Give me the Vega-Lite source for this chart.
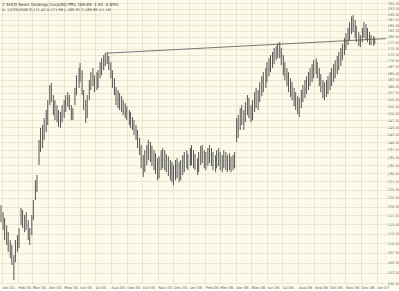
{
  "$schema": "https://vega.github.io/schema/vega-lite/v6.json",
  "width": 386,
  "height": 283,
  "padding": {"left": 0, "top": 0, "right": 0, "bottom": 0},
  "background": "#FCFAEA",
  "config": {"view": {"stroke": null, "fill": "#FCFAEA"}, "font": "DejaVu Sans"},
  "title": {
    "text": "▽ SHLD Sears Holdings Corp(NQ-PRI)  169.89  -1.53  -0.89%",
    "subtitle": "D: 12/29/2006  O:171.42  H:171.98  L:169.31  C:169.89  V:1.1M",
    "anchor": "start",
    "frame": "group",
    "orient": "top",
    "offset": -12,
    "fontSize": 4,
    "fontWeight": "normal",
    "color": "#333",
    "subtitleFontSize": 3.6,
    "subtitleColor": "#444",
    "subtitlePadding": 1,
    "dx": 2
  },
  "layer": [
    {
      "data": {"values": [
        {"d":"2004-12-30","h":120.4,"l":115.6},
        {"d":"2005-01-03","h":118.4,"l":113.5},
        {"d":"2005-01-06","h":116.8,"l":110.8},
        {"d":"2005-01-10","h":114.8,"l":109.5},
        {"d":"2005-01-13","h":112.9,"l":107.7},
        {"d":"2005-01-17","h":110.8,"l":106.1},
        {"d":"2005-01-20","h":109.5,"l":104.4},
        {"d":"2005-01-24","h":106.9,"l":100.7},
        {"d":"2005-01-27","h":110.8,"l":105.1},
        {"d":"2005-01-31","h":112.1,"l":107.7},
        {"d":"2005-02-03","h":114.0,"l":108.7},
        {"d":"2005-02-07","h":119.6,"l":114.8},
        {"d":"2005-02-10","h":119.0,"l":114.0},
        {"d":"2005-02-14","h":117.6,"l":112.9},
        {"d":"2005-02-17","h":118.4,"l":113.5},
        {"d":"2005-02-21","h":116.2,"l":110.8},
        {"d":"2005-02-24","h":114.0,"l":109.5},
        {"d":"2005-02-28","h":117.6,"l":112.1},
        {"d":"2005-03-03","h":121.9,"l":116.2},
        {"d":"2005-03-07","h":127.8,"l":121.9},
        {"d":"2005-03-10","h":129.4,"l":124.2},
        {"d":"2005-03-14","h":140.7,"l":132.5},
        {"d":"2005-03-17","h":144.8,"l":136.7},
        {"d":"2005-03-21","h":145.8,"l":138.0},
        {"d":"2005-03-24","h":148.2,"l":140.7},
        {"d":"2005-03-28","h":151.1,"l":143.4},
        {"d":"2005-03-31","h":154.7,"l":145.8},
        {"d":"2005-04-04","h":160.4,"l":152.9},
        {"d":"2005-04-07","h":161.2,"l":154.0},
        {"d":"2005-04-11","h":156.6,"l":149.3},
        {"d":"2005-04-14","h":154.7,"l":147.5},
        {"d":"2005-04-18","h":152.9,"l":146.8},
        {"d":"2005-04-21","h":151.1,"l":145.1},
        {"d":"2005-04-25","h":150.4,"l":144.8},
        {"d":"2005-04-28","h":152.9,"l":146.8},
        {"d":"2005-05-02","h":154.7,"l":148.2},
        {"d":"2005-05-05","h":156.6,"l":150.4},
        {"d":"2005-05-09","h":157.7,"l":152.2},
        {"d":"2005-05-12","h":156.6,"l":151.1},
        {"d":"2005-05-16","h":152.9,"l":147.5},
        {"d":"2005-05-19","h":151.8,"l":147.5},
        {"d":"2005-05-23","h":159.3,"l":152.9},
        {"d":"2005-05-26","h":164.2,"l":156.6},
        {"d":"2005-05-31","h":167.0,"l":159.3},
        {"d":"2005-06-02","h":169.0,"l":161.5},
        {"d":"2005-06-06","h":166.2,"l":156.6},
        {"d":"2005-06-09","h":158.5,"l":151.1},
        {"d":"2005-06-13","h":154.7,"l":146.5},
        {"d":"2005-06-16","h":156.6,"l":148.2},
        {"d":"2005-06-20","h":162.3,"l":154.7},
        {"d":"2005-06-23","h":165.4,"l":158.5},
        {"d":"2005-06-27","h":167.0,"l":160.0},
        {"d":"2005-06-30","h":164.2,"l":157.7},
        {"d":"2005-07-05","h":165.4,"l":158.5},
        {"d":"2005-07-07","h":166.2,"l":159.3},
        {"d":"2005-07-11","h":169.4,"l":163.0},
        {"d":"2005-07-14","h":171.0,"l":164.2},
        {"d":"2005-07-18","h":172.3,"l":166.2},
        {"d":"2005-07-21","h":173.2,"l":167.8},
        {"d":"2005-07-25","h":173.6,"l":168.6},
        {"d":"2005-07-28","h":171.9,"l":166.2},
        {"d":"2005-08-01","h":169.4,"l":163.0},
        {"d":"2005-08-04","h":166.2,"l":159.3},
        {"d":"2005-08-08","h":163.0,"l":156.6},
        {"d":"2005-08-11","h":159.6,"l":152.9},
        {"d":"2005-08-15","h":158.5,"l":151.8},
        {"d":"2005-08-18","h":157.4,"l":151.1},
        {"d":"2005-08-22","h":156.2,"l":150.4},
        {"d":"2005-08-25","h":154.7,"l":149.3},
        {"d":"2005-08-29","h":153.6,"l":148.2},
        {"d":"2005-09-01","h":152.5,"l":147.5},
        {"d":"2005-09-06","h":151.1,"l":145.8},
        {"d":"2005-09-08","h":150.4,"l":144.8},
        {"d":"2005-09-12","h":148.6,"l":144.1},
        {"d":"2005-09-15","h":147.5,"l":142.4},
        {"d":"2005-09-19","h":145.8,"l":140.7},
        {"d":"2005-09-22","h":144.1,"l":138.0},
        {"d":"2005-09-26","h":141.4,"l":135.7},
        {"d":"2005-09-29","h":139.0,"l":131.5},
        {"d":"2005-10-03","h":135.7,"l":128.8},
        {"d":"2005-10-06","h":137.3,"l":130.3},
        {"d":"2005-10-10","h":139.0,"l":132.5},
        {"d":"2005-10-13","h":140.7,"l":134.1},
        {"d":"2005-10-17","h":140.0,"l":133.5},
        {"d":"2005-10-20","h":138.7,"l":132.2},
        {"d":"2005-10-24","h":137.3,"l":130.9},
        {"d":"2005-10-27","h":136.3,"l":129.7},
        {"d":"2005-10-31","h":134.7,"l":127.8},
        {"d":"2005-11-03","h":135.3,"l":128.4},
        {"d":"2005-11-07","h":137.3,"l":130.9},
        {"d":"2005-11-10","h":138.0,"l":131.5},
        {"d":"2005-11-14","h":137.3,"l":130.9},
        {"d":"2005-11-17","h":136.0,"l":130.3},
        {"d":"2005-11-21","h":135.3,"l":129.1},
        {"d":"2005-11-25","h":134.1,"l":127.8},
        {"d":"2005-11-28","h":133.5,"l":127.2},
        {"d":"2005-12-01","h":132.5,"l":126.3},
        {"d":"2005-12-05","h":134.1,"l":127.8},
        {"d":"2005-12-08","h":134.7,"l":128.4},
        {"d":"2005-12-12","h":133.5,"l":127.2},
        {"d":"2005-12-15","h":134.1,"l":127.8},
        {"d":"2005-12-19","h":135.7,"l":129.4},
        {"d":"2005-12-22","h":136.7,"l":130.3},
        {"d":"2005-12-27","h":137.3,"l":131.5},
        {"d":"2005-12-29","h":136.0,"l":130.9},
        {"d":"2006-01-03","h":138.0,"l":132.2},
        {"d":"2006-01-05","h":139.0,"l":132.5},
        {"d":"2006-01-09","h":137.3,"l":131.5},
        {"d":"2006-01-12","h":136.0,"l":130.9},
        {"d":"2006-01-17","h":134.7,"l":129.4},
        {"d":"2006-01-19","h":136.7,"l":130.3},
        {"d":"2006-01-23","h":138.7,"l":132.5},
        {"d":"2006-01-26","h":139.0,"l":133.1},
        {"d":"2006-01-30","h":137.3,"l":131.5},
        {"d":"2006-02-02","h":136.7,"l":130.9},
        {"d":"2006-02-06","h":138.0,"l":132.2},
        {"d":"2006-02-09","h":139.0,"l":133.1},
        {"d":"2006-02-13","h":138.0,"l":132.2},
        {"d":"2006-02-16","h":136.7,"l":130.9},
        {"d":"2006-02-21","h":135.7,"l":130.3},
        {"d":"2006-02-23","h":137.3,"l":131.5},
        {"d":"2006-02-27","h":138.0,"l":132.2},
        {"d":"2006-03-02","h":136.7,"l":130.9},
        {"d":"2006-03-06","h":135.7,"l":130.3},
        {"d":"2006-03-09","h":137.3,"l":131.5},
        {"d":"2006-03-13","h":136.7,"l":130.9},
        {"d":"2006-03-16","h":135.7,"l":130.3},
        {"d":"2006-03-20","h":136.3,"l":130.9},
        {"d":"2006-03-23","h":135.3,"l":130.3},
        {"d":"2006-03-27","h":135.7,"l":130.9},
        {"d":"2006-03-30","h":136.7,"l":131.5},
        {"d":"2006-04-03","h":148.2,"l":140.0},
        {"d":"2006-04-06","h":149.3,"l":141.4},
        {"d":"2006-04-10","h":151.8,"l":144.1},
        {"d":"2006-04-13","h":152.9,"l":145.8},
        {"d":"2006-04-17","h":151.1,"l":144.1},
        {"d":"2006-04-20","h":154.0,"l":146.8},
        {"d":"2006-04-24","h":156.6,"l":149.3},
        {"d":"2006-04-27","h":155.5,"l":148.2},
        {"d":"2006-05-01","h":152.9,"l":146.8},
        {"d":"2006-05-04","h":154.7,"l":147.5},
        {"d":"2006-05-08","h":157.7,"l":150.4},
        {"d":"2006-05-11","h":159.3,"l":151.8},
        {"d":"2006-05-15","h":158.5,"l":151.1},
        {"d":"2006-05-18","h":161.5,"l":154.0},
        {"d":"2006-05-22","h":163.8,"l":156.2},
        {"d":"2006-05-25","h":165.4,"l":157.7},
        {"d":"2006-05-30","h":167.0,"l":159.3},
        {"d":"2006-06-01","h":169.4,"l":161.5},
        {"d":"2006-06-05","h":171.0,"l":163.8},
        {"d":"2006-06-08","h":172.3,"l":165.4},
        {"d":"2006-06-12","h":173.6,"l":167.0},
        {"d":"2006-06-15","h":175.2,"l":168.6},
        {"d":"2006-06-19","h":176.1,"l":170.2},
        {"d":"2006-06-22","h":177.3,"l":171.0},
        {"d":"2006-06-26","h":177.8,"l":171.0},
        {"d":"2006-06-29","h":175.2,"l":168.2},
        {"d":"2006-07-03","h":172.3,"l":164.2},
        {"d":"2006-07-06","h":169.4,"l":162.3},
        {"d":"2006-07-10","h":167.0,"l":160.0},
        {"d":"2006-07-13","h":165.4,"l":157.7},
        {"d":"2006-07-17","h":163.0,"l":155.9},
        {"d":"2006-07-20","h":161.5,"l":154.7},
        {"d":"2006-07-24","h":159.3,"l":152.5},
        {"d":"2006-07-27","h":157.7,"l":151.1},
        {"d":"2006-07-31","h":156.2,"l":149.6},
        {"d":"2006-08-03","h":155.5,"l":148.6},
        {"d":"2006-08-07","h":158.5,"l":151.8},
        {"d":"2006-08-10","h":160.4,"l":154.0},
        {"d":"2006-08-14","h":162.3,"l":155.5},
        {"d":"2006-08-17","h":163.8,"l":157.0},
        {"d":"2006-08-21","h":165.4,"l":158.5},
        {"d":"2006-08-24","h":167.0,"l":160.0},
        {"d":"2006-08-28","h":168.6,"l":161.5},
        {"d":"2006-08-31","h":170.2,"l":163.0},
        {"d":"2006-09-05","h":171.0,"l":164.6},
        {"d":"2006-09-07","h":169.4,"l":163.0},
        {"d":"2006-09-11","h":167.0,"l":160.0},
        {"d":"2006-09-14","h":164.6,"l":157.7},
        {"d":"2006-09-18","h":162.3,"l":155.5},
        {"d":"2006-09-21","h":161.5,"l":154.7},
        {"d":"2006-09-25","h":162.3,"l":155.9},
        {"d":"2006-09-28","h":163.8,"l":157.0},
        {"d":"2006-10-02","h":165.4,"l":158.5},
        {"d":"2006-10-05","h":167.0,"l":160.0},
        {"d":"2006-10-09","h":168.6,"l":161.5},
        {"d":"2006-10-12","h":170.2,"l":163.0},
        {"d":"2006-10-16","h":171.9,"l":164.6},
        {"d":"2006-10-19","h":173.6,"l":166.2},
        {"d":"2006-10-23","h":175.2,"l":167.8},
        {"d":"2006-10-26","h":176.9,"l":170.2},
        {"d":"2006-10-30","h":179.5,"l":172.3},
        {"d":"2006-11-02","h":181.6,"l":174.4},
        {"d":"2006-11-06","h":183.8,"l":176.5},
        {"d":"2006-11-09","h":186.4,"l":178.6},
        {"d":"2006-11-13","h":189.0,"l":181.1},
        {"d":"2006-11-16","h":189.5,"l":182.0},
        {"d":"2006-11-20","h":187.3,"l":179.5},
        {"d":"2006-11-22","h":184.7,"l":177.7},
        {"d":"2006-11-27","h":182.0,"l":176.1},
        {"d":"2006-11-30","h":180.7,"l":175.6},
        {"d":"2006-12-04","h":183.8,"l":177.7},
        {"d":"2006-12-07","h":186.4,"l":179.5},
        {"d":"2006-12-11","h":185.5,"l":178.6},
        {"d":"2006-12-14","h":183.8,"l":177.7},
        {"d":"2006-12-18","h":182.0,"l":176.5},
        {"d":"2006-12-21","h":180.7,"l":176.5},
        {"d":"2006-12-26","h":180.3,"l":176.1},
        {"d":"2006-12-28","h":179.5,"l":176.9}
      ]},
      "mark": {"type": "rule", "color": "#555555", "strokeWidth": 1},
      "encoding": {
        "x": {
          "field": "d", "type": "temporal",
          "scale": {"domain": [{"year": 2004, "month": 12, "date": 28}, {"year": 2007, "month": 1, "date": 19}]},
          "axis": {
            "title": null, "format": "%b %y",
            "tickCount": {"interval": "month", "step": 1},
            "labelAlign": "left", "labelFontSize": 3.8, "labelColor": "#666666",
            "labelOverlap": false, "labelPadding": 2,
            "ticks": false, "domain": false,
            "grid": true, "gridColor": "#E4DEC2", "gridWidth": 0.7
          }
        },
        "y": {
          "field": "h", "type": "quantitative",
          "scale": {"type": "log", "domain": [100, 196.5], "nice": false, "zero": false},
          "axis": {
            "orient": "right", "title": null, "format": ".2f",
            "values": [100,102.5,105,107.5,110,112.5,115,117.5,120,122.5,125,127.5,130,132.5,135,137.5,140,142.5,145,147.5,150,152.5,155,157.5,160,162.5,165,167.5,170,172.5,175,177.5,180,182.5,185,187.5,190,192.5,195],
            "labelFontSize": 3.6, "labelColor": "#666666", "labelOverlap": false,
            "labelPadding": 1, "ticks": false, "domain": false,
            "grid": true, "gridColor": "#E4DEC2", "gridWidth": 0.7
          }
        },
        "y2": {"field": "l"}
      }
    },
    {
      "data": {"values": [
        {"d": "2005-07-26", "p": 173.1},
        {"d": "2007-01-19", "p": 179.2}
      ]},
      "mark": {"type": "line", "color": "#555555", "strokeWidth": 0.8},
      "encoding": {
        "x": {"field": "d", "type": "temporal"},
        "y": {"field": "p", "type": "quantitative"}
      }
    }
  ]
}
